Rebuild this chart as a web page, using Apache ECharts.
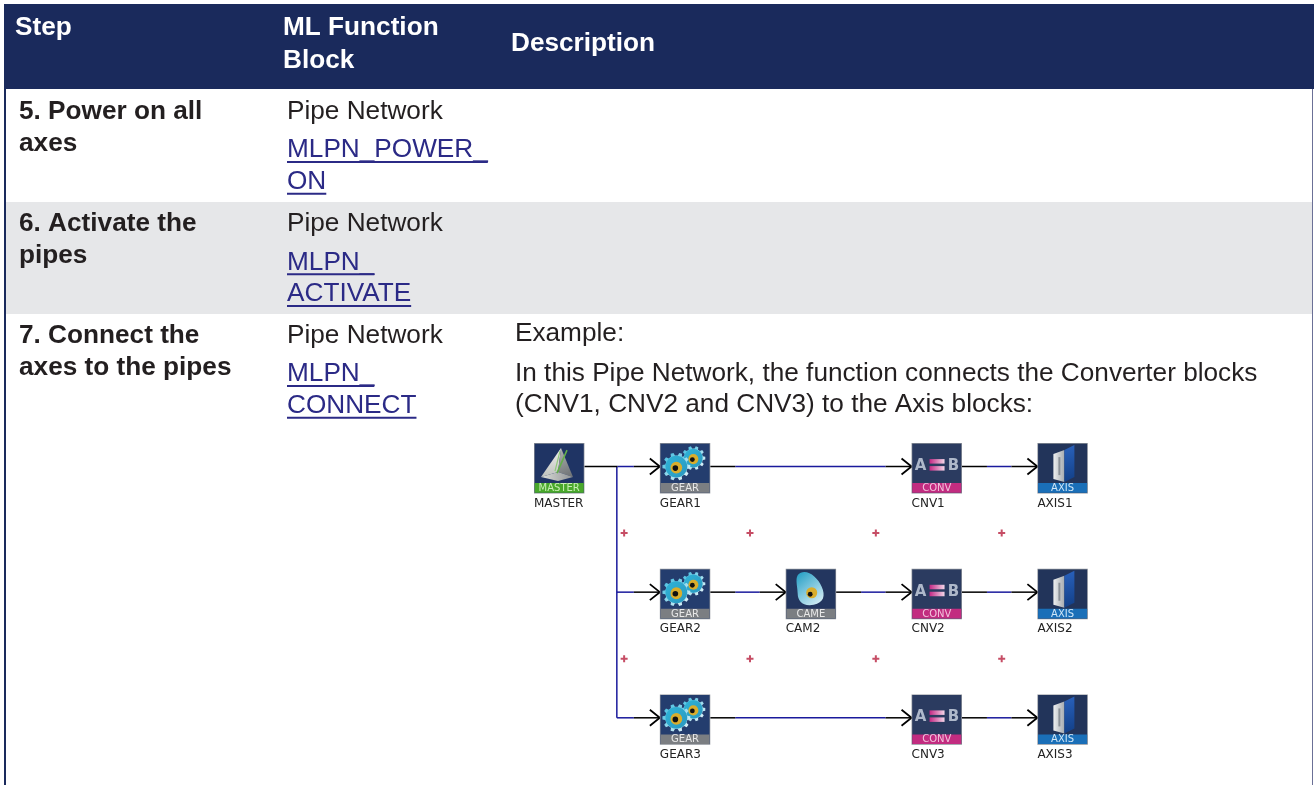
<!DOCTYPE html>
<html><head><meta charset="utf-8">
<style>html,body{margin:0;padding:0;background:#fff}#c{width:1314px;height:785px}</style>
<script src="https://cdn.jsdelivr.net/npm/echarts@6/dist/echarts.min.js"></script>
</head><body><div id="c"></div>
<script>
// ---- table content
const headerLabels = [['Step'], ['ML Function', 'Block'], ['Description']];
const stepLabels = [['5. Power on all', 'axes'], ['6. Activate the', 'pipes'], ['7. Connect the', 'axes to the pipes']];
const blockKind = ['Pipe Network', 'Pipe Network', 'Pipe Network'];
const blockLinks = [['MLPN_POWER_', 'ON'], ['MLPN_', 'ACTIVATE'], ['MLPN_', 'CONNECT']];
const descriptionLines = ['Example:', 'In this Pipe Network, the function connects the Converter blocks', '(CNV1, CNV2 and CNV3) to the Axis blocks:'];
// ---- diagram content
const nodeNames = ['MASTER', 'GEAR1', 'CNV1', 'AXIS1', 'GEAR2', 'CAM2', 'CNV2', 'AXIS2', 'GEAR3', 'CNV3', 'AXIS3'];
const nodeKinds = ['master', 'gear', 'conv', 'axis', 'gear', 'cam', 'conv', 'axis', 'gear', 'conv', 'axis'];
const nodeCols = [0, 1, 3, 4, 1, 2, 3, 4, 1, 3, 4];
const nodeRows = [0, 0, 0, 0, 1, 1, 1, 1, 2, 2, 2];
const trunkCol = 0.458;
const edgeFrom = [0, 1, 3, trunkCol, 1, 2, 3, trunkCol, 1, 3];
const edgeTo   = [1, 3, 4, 1,        2, 3, 4, 1,        3, 4];
const edgeRow  = [0, 0, 0, 1,        1, 1, 1, 2,        2, 2];
const markCols = [0.516, 1.516, 2.516, 3.516];
const markRows = [0.515, 1.515];

const chart = echarts.init(document.getElementById('c'), null, {renderer: 'canvas'});
const NAVY = '#1a2a5c', INK = '#231f20', LINK = '#2b2a86', BAND = '#e6e7e9';
const FF = '"Liberation Sans", Arial, sans-serif';
const FS = 26.2;
const measure = document.createElement('canvas').getContext('2d');
measure.font = FS + 'px ' + FF;
const midY = b => b - 7;

const g = [];
function txt(s, x, base, bold, fill) {
  g.push({type: 'text', z: 5, silent: true, style: {text: s, x: x, y: midY(base), verticalAlign: 'middle',
    font: (bold ? 'bold ' : '') + FS + 'px ' + FF, fill: fill}});
}
function box(x, y, w, h, fill) {
  g.push({type: 'rect', z: 1, silent: true, shape: {x, y, width: w, height: h}, style: {fill}});
}
box(0, 0, 1314, 785, '#ffffff');
box(4, 4, 1310, 85, NAVY);
box(4, 202, 1309, 112, BAND);
box(4, 89, 2, 696, NAVY);
box(1312, 89, 1, 696, '#6b7096');
// header
txt(headerLabels[0][0], 15, 35, true, '#fff');
txt(headerLabels[1][0], 283, 35, true, '#fff');
txt(headerLabels[1][1], 283, 67.5, true, '#fff');
txt(headerLabels[2][0], 511, 51, true, '#fff');
// rows
const rowBase = [118.7, 231, 342.7];
stepLabels.forEach((l, i) => {
  txt(l[0], 19, rowBase[i], true, INK);
  txt(l[1], 19, rowBase[i] + 31.7, true, INK);
  txt(blockKind[i], 287, rowBase[i], false, INK);
  blockLinks[i].forEach((s, j) => {
    const b = rowBase[i] + 38.3 + j * 31.7;
    txt(s, 287, b, false, LINK);
    box(287, b + 4, measure.measureText(s).width, 2, LINK);
  });
});
descriptionLines.forEach((s, i) => txt(s, 515, [340.7, 381, 412][i], false, INK));

// ---- icon painters (local coords: 50x50 tile, top-left origin)
function gearPts(cx, cy, ro, ri, n) {
  const p = [];
  for (let i = 0; i < n; i++) {
    const a = i / n * Math.PI * 2, d = Math.PI / n;
    [[-0.6, ri], [-0.35, ro], [0.35, ro], [0.6, ri]].forEach(q => {
      p.push([cx + q[1] * Math.cos(a + q[0] * d), cy + q[1] * Math.sin(a + q[0] * d)]);
    });
  }
  return p;
}
const lg = (x0, y0, x1, y1, a, b) => new echarts.graphic.LinearGradient(x0, y0, x1, y1, [{offset: 0, color: a}, {offset: 1, color: b}]);
const poly = (pts, fill) => ({type: 'polygon', shape: {points: pts}, style: {fill}});
const circ = (cx, cy, r, fill) => ({type: 'circle', shape: {cx, cy, r}, style: {fill}});
const rct = (x, y, w, h, fill) => ({type: 'rect', shape: {x, y, width: w, height: h}, style: {fill}});
function gearArt(cx, cy, r) {
  return [
    poly(gearPts(cx, cy, r, r * 0.8, 10), lg(0, 0, 1, 1, '#3ab8dc', '#f4fbfd')),
    circ(cx, cy, r * 0.78, lg(0, 0, 1, 1, '#2fb4d8', '#2a97bf')),
    circ(cx, cy + 1, r * 0.42, '#d9ad2c'),
    circ(cx - 1, cy + 1.5, r * 0.2, '#111')
  ];
}
const art = {
  master: () => [
    poly([[27, 5], [7, 34], [24, 29]], lg(0, 0, 0, 1, '#efefea', '#bfc2be')),
    poly([[27, 5], [24, 29], [39, 34]], lg(0, 0, 1, 1, '#b0b3b1', '#6b6f72')),
    poly([[7, 34], [24, 29], [39, 34], [24, 38]], lg(0, 0, 1, 0, '#dcded9', '#8f9294')),
    {type: 'line', shape: {x1: 23, y1: 30, x2: 33, y2: 7}, style: {stroke: '#63b04a', lineWidth: 1.6}},
    {type: 'line', shape: {x1: 21, y1: 28, x2: 26, y2: 8}, style: {stroke: '#8ec878', lineWidth: 1.2}}
  ],
  gear: () => [...gearArt(33.5, 15, 12), ...gearArt(16.5, 23.5, 14)],
  cam: () => [
    {type: 'path', shape: {pathData: 'M15 4 C23 1 32 9 36 18 C40 27 38 34 28 36 C17 38 12 32 12 25 C12 17 8 7 15 4 Z'},
      style: {fill: lg(0, 0, 1, 1, '#1f9cc4', '#e4f4f8')}},
    circ(26, 24, 5.5, '#d9ad2c'), circ(24.5, 25.5, 2.4, '#111')
  ],
  conv: () => [
    {type: 'text', style: {text: 'A', x: 9, y: 23, align: 'center', verticalAlign: 'middle', font: 'bold 15px "DejaVu Sans"', fill: '#aeb8ca'}},
    {type: 'text', style: {text: 'B', x: 42, y: 23, align: 'center', verticalAlign: 'middle', font: 'bold 15px "DejaVu Sans"', fill: '#aeb8ca'}},
    rct(18, 16, 15, 4.5, lg(0, 0, 1, 0, '#c42884', '#f4d6e8')),
    rct(18, 23, 15, 4.5, lg(0, 0, 1, 0, '#c42884', '#f4d6e8'))
  ],
  axis: () => [
    poly([[16, 11], [27, 7], [27, 39], [16, 36]], lg(0, 0, 1, 0, '#eef0f1', '#a6abb0')),
    poly([[27, 7], [37, 2], [37, 34], [27, 39]], lg(0, 0, 1, 1, '#2a62bd', '#123f86')),
    rct(21, 14, 2, 18, '#8a9097')
  ]
};
const tileStyle = {
  master: {bg: '#1f3464', band: '#49a82b', tag: 'MASTER', tagFill: '#c9efb5'},
  gear:   {bg: '#243d6e', band: '#7b7e82', tag: 'GEAR',   tagFill: '#e8e8e8'},
  cam:    {bg: '#23365f', band: '#7b7e82', tag: 'CAME',   tagFill: '#e8e8e8'},
  conv:   {bg: '#2b3b60', band: '#c22c80', tag: 'CONV',   tagFill: '#f2c2dc'},
  axis:   {bg: '#22345a', band: '#1a6fb8', tag: 'AXIS',   tagFill: '#cfe6f7'}
};
const W = 50.4, rowShift = -1.8, LW = 1.5;

function renderNode(params, api) {
  const c = api.coord([api.value(0), api.value(1)]);
  const i = params.dataIndex, kind = nodeKinds[i], st = tileStyle[kind];
  return {type: 'group', x: c[0] - W / 2, y: c[1] - W / 2, children: [
    rct(0, 0, W, W, '#8b9098'),
    rct(0.7, 0.7, W - 1.4, W - 1.4, st.bg),
    {type: 'group', children: art[kind]()},
    rct(0.7, 40, W - 1.4, 9.7, st.band),
    {type: 'text', style: {text: st.tag, x: W / 2, y: 45.3, align: 'center', verticalAlign: 'middle', font: '10px "DejaVu Sans"', fill: st.tagFill}},
    {type: 'text', style: {text: nodeNames[i], x: 0, y: 60.5, verticalAlign: 'middle', font: '12px "DejaVu Sans"', fill: '#222'}}
  ]};
}
function seg(x1, x2, y, stroke) {
  return {type: 'line', shape: {x1, y1: y, x2, y2: y}, style: {stroke, lineWidth: LW}};
}
function renderEdge(params, api) {
  const i = params.dataIndex, from = edgeFrom[i];
  const a = api.coord([from, api.value(1)]), b = api.coord([api.value(0), api.value(1)]);
  const y = a[1] + rowShift;
  const onTrunk = from === trunkCol;
  const x0 = onTrunk ? a[0] : a[0] + W / 2, x1 = b[0] - W / 2;
  const lead = onTrunk ? 0 : (from === 0 ? 33 : 25);
  const kids = [];
  kids.push(seg(x0 + lead, x1 - 26, y, '#1a1a9c'));
  if (lead) kids.push(seg(x0, x0 + lead, y, '#000'));
  kids.push(seg(x1 - 26, x1, y, '#000'));
  kids.push({type: 'polyline', shape: {points: [[x1 - 10, y - 8], [x1, y], [x1 - 10, y + 8]]}, style: {stroke: '#000', fill: 'none', lineWidth: 1.8}});
  return {type: 'group', children: kids};
}
function renderTrunk(params, api) {
  const a = api.coord([api.value(0), api.value(1)]), b = api.coord([api.value(0), api.value(2)]);
  return {type: 'line', shape: {x1: a[0], y1: a[1] + rowShift, x2: a[0], y2: b[1] + rowShift}, style: {stroke: '#1a1a9c', lineWidth: LW}};
}

const marks = [];
markRows.forEach(r => markCols.forEach(c => marks.push([c, r])));

chart.setOption({
  animation: false,
  backgroundColor: '#ffffff',
  grid: {left: 559.2, top: 468.3, width: 503.4, height: 251.3, containLabel: false, show: false},
  xAxis: {type: 'value', min: 0, max: 4, show: false},
  yAxis: {type: 'value', min: 0, max: 2, inverse: true, show: false},
  graphic: {elements: g},
  series: [
    {type: 'custom', coordinateSystem: 'cartesian2d', clip: false, z: 3, silent: true, renderItem: renderTrunk,
      encode: {x: 0, y: [1, 2]}, data: [[trunkCol, 0, 2]]},
    {type: 'custom', coordinateSystem: 'cartesian2d', clip: false, z: 3, silent: true, renderItem: renderEdge,
      encode: {x: 0, y: 1}, data: edgeTo.map((t, i) => [t, edgeRow[i]])},
    {type: 'custom', coordinateSystem: 'cartesian2d', clip: false, z: 4, silent: true, renderItem: renderNode,
      encode: {x: 0, y: 1}, data: nodeCols.map((c, i) => [c, nodeRows[i]])},
    {type: 'scatter', silent: true, z: 4, symbol: 'path://M2.5 0H4.5V2.5H7V4.5H4.5V7H2.5V4.5H0V2.5H2.5Z', symbolSize: 7,
      itemStyle: {color: '#b8203f'}, data: marks}
  ]
});
</script></body></html>
